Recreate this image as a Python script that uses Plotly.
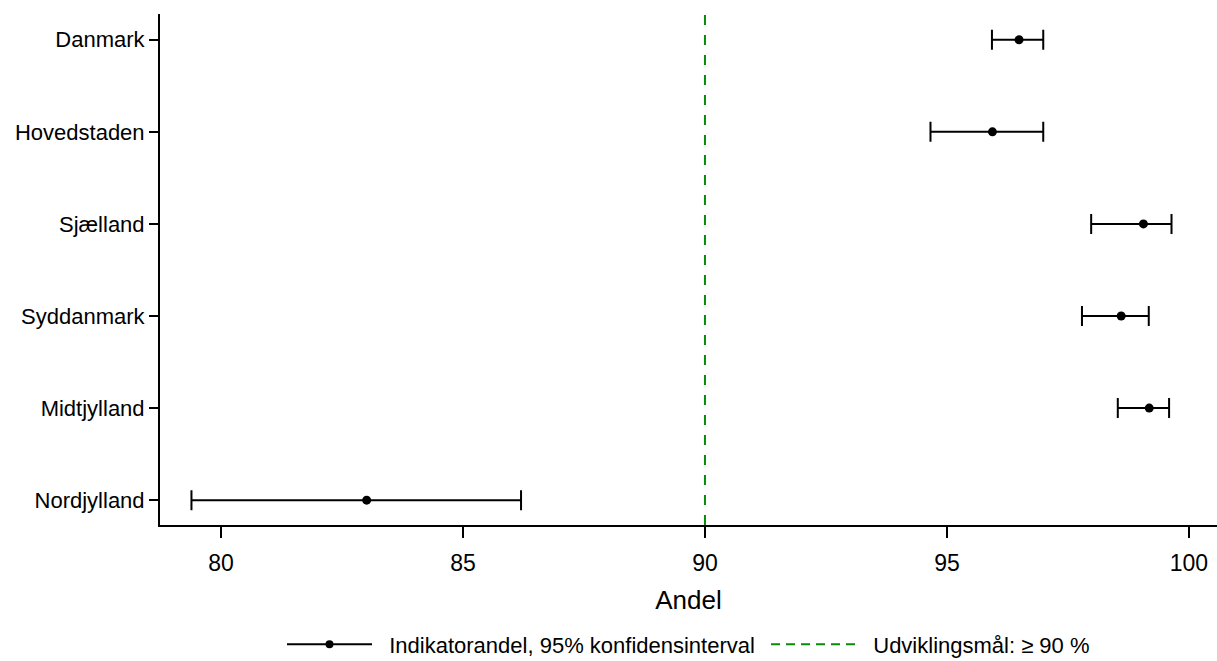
import plotly.graph_objects as go

regions = ["Danmark", "Hovedstaden", "Sjælland", "Syddanmark", "Midtjylland", "Nordjylland"]
andel = [96.49, 95.94, 99.06, 98.60, 99.18, 83.01]
ci_low = [95.93, 94.66, 97.98, 97.79, 98.53, 79.39]
ci_high = [96.99, 96.99, 99.64, 99.17, 99.59, 86.20]
target = 90
x_ticks = [80, 85, 90, 95, 100]

err_plus = [h - v for h, v in zip(ci_high, andel)]
err_minus = [v - l for v, l in zip(andel, ci_low)]

FONT = "Liberation Sans, Arial, sans-serif"
GREEN = "#0a8a0a"

fig = go.Figure()
fig.add_trace(go.Scatter(
    x=andel, y=regions, mode="markers",
    marker=dict(color="black", size=9),
    error_x=dict(type="data", symmetric=False, array=err_plus, arrayminus=err_minus,
                 color="black", thickness=2, width=10),
    showlegend=False,
))
fig.add_trace(go.Scatter(
    x=[None], y=[None], mode="lines+markers",
    line=dict(color="black", width=2), marker=dict(color="black", size=8),
    name="\u00a0\u00a0Indikatorandel, 95% konfidensinterval\u00a0",
))
fig.add_trace(go.Scatter(
    x=[None], y=[None], mode="lines",
    line=dict(color=GREEN, width=2, dash="9px,6px"),
    name="\u00a0\u00a0Udviklingsmål: ≥ 90 %",
))
fig.add_shape(type="line", x0=target, x1=target, xref="x", yref="y domain", y0=0, y1=1,
              line=dict(color=GREEN, width=2, dash="10px,10px"), layer="below")

fig.update_layout(
    width=1217, height=661,
    margin=dict(l=160, r=0, t=14, b=136),
    plot_bgcolor="white", paper_bgcolor="white",
    font=dict(family=FONT, color="black"),
    xaxis=dict(range=[78.74, 100.58], tickvals=x_ticks, ticks="outside", ticklen=11,
               tickwidth=2, tickcolor="black", showline=True, linecolor="black", linewidth=2,
               showgrid=False, zeroline=False, tickfont=dict(size=23), ticklabelstandoff=5,
               title=dict(text="Andel", font=dict(size=26), standoff=16)),
    yaxis=dict(type="category", categoryarray=regions, range=[5.27, -0.28],
               ticks="outside", ticklen=9, tickwidth=2, tickcolor="black",
               showline=True, linecolor="black", linewidth=2, showgrid=False,
               zeroline=False, tickfont=dict(size=22)),
    legend=dict(orientation="h", x=0.5, xanchor="center", yref="container", y=0.025,
                yanchor="middle", font=dict(size=22), itemwidth=85),
)

fig.write_html("out.html", config={"displayModeBar": False},
               post_script="document.body.style.margin='0';")
